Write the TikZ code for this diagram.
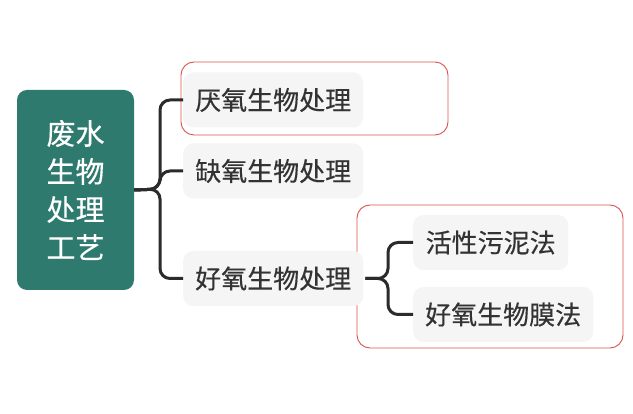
\documentclass[tikz,border=0pt]{standalone}
\usepackage{fontspec}
\setmainfont{Noto Sans CJK SC}[FakeBold=0.35]
\definecolor{rootc}{HTML}{2F7A6F}
\definecolor{boxc}{HTML}{F5F5F5}
\definecolor{redc}{HTML}{D9534F}
\definecolor{linec}{HTML}{2B2B2B}
\definecolor{txtc}{HTML}{333333}
\begin{document}
\begin{tikzpicture}[x=1pt,y=-1pt,
  topic/.style={fill=boxc,rounded corners=10pt,inner xsep=12pt,inner ysep=0pt,minimum height=55pt,anchor=west,text=txtc,font=\fontsize{26}{30}\selectfont},
  conn/.style={draw=linec,line width=3pt,rounded corners=10pt},
  frame/.style={draw=redc,line width=0.9pt,rounded corners=13pt}]
\useasboundingbox (0,0) rectangle (633,414);
\fill[white] (0,0) rectangle (633,414);
% root
\node[fill=rootc,rounded corners=10pt,minimum width=117pt,minimum height=200pt,text=white,
  font=\fontsize{29}{38}\selectfont,align=center,inner sep=0pt] (root) at (75.5,190) {废水\\生物\\处理\\工艺};
% frames
\draw[frame] (181,62) rectangle (448,135);
\draw[frame] (357,205) rectangle (623,348);
% level 1
\node[topic,minimum width=180pt] (b1) at (183,100) {厌氧生物处理};
\node[topic,minimum width=180pt] (b2) at (183,171) {缺氧生物处理};
\node[topic,minimum width=180pt] (b3) at (183,278.5) {好氧生物处理};
% level 2
\node[topic,minimum width=155pt] (c1) at (413,242.5) {活性污泥法};
\node[topic,minimum width=180pt] (c2) at (413,314.5) {好氧生物膜法};
% connectors
\coordinate (j1) at (160,189);
\coordinate (j2) at (388,278.5);
\draw[conn] (root.east) -- (j1) |- (b1.west);
\draw[conn] (root.east) -- (j1) |- (b2.west);
\draw[conn] (root.east) -- (j1) |- (b3.west);
\draw[conn] ([xshift=2pt]b3.east) -- (j2) |- (c1.west);
\draw[conn] ([xshift=2pt]b3.east) -- (j2) |- (c2.west);
\end{tikzpicture}
\end{document}
